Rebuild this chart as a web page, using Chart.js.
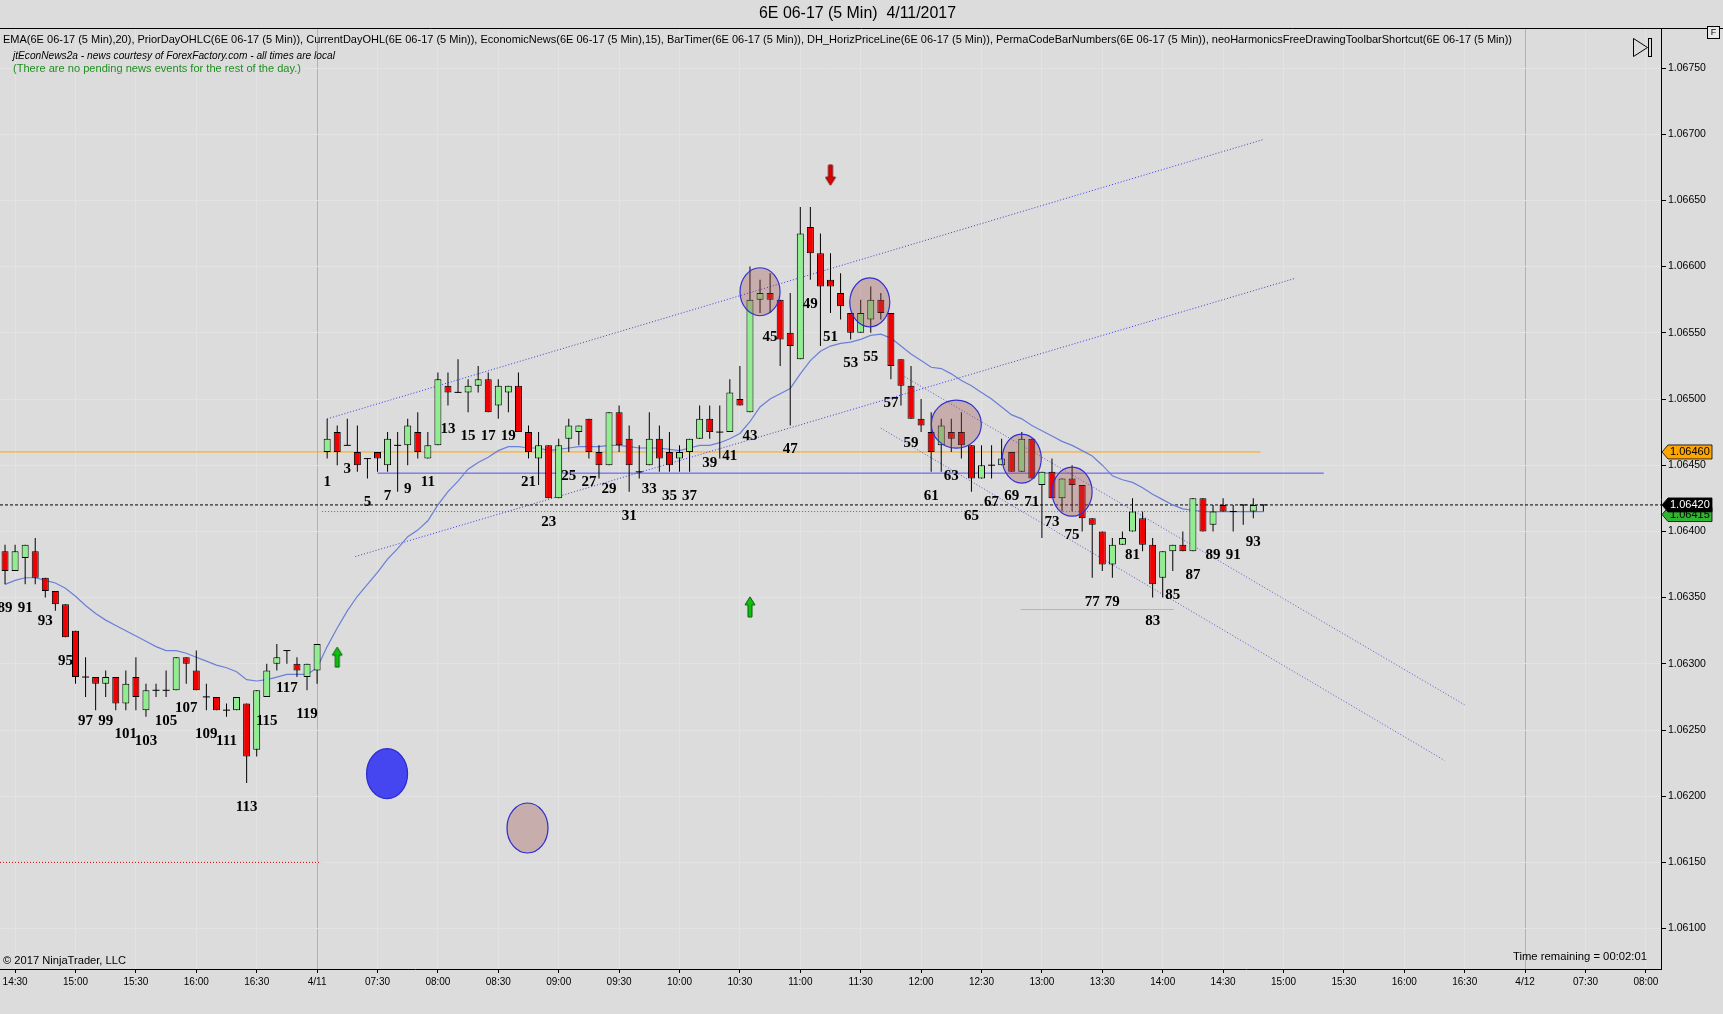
<!DOCTYPE html>
<html>
<head>
<meta charset="utf-8">
<title>6E 06-17 (5 Min) 4/11/2017</title>
<script src="https://cdn.jsdelivr.net/npm/chart.js@4.4.1/dist/chart.umd.min.js"></script>
<style>
  html, body { margin: 0; padding: 0; background: #dcdcdc; overflow: hidden; }
  #chartBox { position: relative; width: 1723px; height: 1014px; }
</style>
</head>
<body>
<div id="chartBox"><canvas id="priceChart" width="1723" height="1014"></canvas></div>
<script>
// PermaCodeBarNumbers: prior day 89..120, then today's session 1..94
const barNumbers = [];
for (let n = 89; n <= 120; n++) barNumbers.push(n);
for (let n = 1; n <= 94; n++) barNumbers.push(n);

const openPrices = [
  1.06385,1.0637,1.0638,1.06385,1.06365,1.06355,1.06345,1.06325,1.0629,1.0629,
  1.06285,1.0629,1.0627,1.0629,1.06265,1.0628,1.0628,1.0628,1.06305,1.06295,
  1.06275,1.06275,1.06265,1.06265,1.0627,1.06235,1.06275,1.063,1.0631,1.063,
  1.0629,1.06295,
  1.0646,1.06475,1.06465,1.0646,1.06455,1.0646,1.0645,1.06465,1.06465,1.06475,
  1.06455,1.06465,1.0651,1.06505,1.06505,1.0651,1.06515,1.06495,1.06505,1.0651,
  1.06475,1.06455,1.06465,1.06425,1.0647,1.06475,1.06485,1.0646,1.0645,1.0649,
  1.0647,1.06445,1.0645,1.0647,1.0646,1.06455,1.0646,1.0647,1.06485,1.06475,
  1.06475,1.065,1.0649,1.06575,1.0658,1.06575,1.0655,1.0653,1.0663,1.0661,
  1.0659,1.0658,1.06565,1.0655,1.0656,1.06575,1.06565,1.0653,1.0651,1.06485,
  1.06475,1.06465,1.06475,1.06475,1.06465,1.0644,1.0645,1.0645,1.0646,1.06445,
  1.0647,1.06435,1.06445,1.06425,1.0644,1.06435,1.0641,1.064,1.06375,1.0639,
  1.064,1.0641,1.0639,1.06365,1.06385,1.0639,1.06385,1.06425,1.06405,1.0642,
  1.06415,1.0642,1.06415,1.0642
];
const highPrices = [
  1.0639,1.0639,1.0639,1.06395,1.06365,1.06355,1.06345,1.06325,1.06305,1.0629,
  1.06295,1.0629,1.06295,1.06305,1.06285,1.06285,1.06295,1.06305,1.06305,1.0631,
  1.06285,1.06275,1.0627,1.06275,1.0627,1.0628,1.063,1.06315,1.0631,1.06305,
  1.063,1.06315,
  1.06485,1.0648,1.06485,1.0648,1.06455,1.0646,1.06475,1.06475,1.06485,1.0649,
  1.06475,1.0652,1.0652,1.0653,1.06515,1.06525,1.0652,1.06515,1.0651,1.0652,
  1.0648,1.06475,1.06465,1.0647,1.06485,1.0648,1.06485,1.06465,1.0649,1.06495,
  1.0648,1.06465,1.0649,1.0648,1.06475,1.06465,1.0647,1.06495,1.06495,1.06495,
  1.06515,1.06525,1.066,1.0659,1.06595,1.06575,1.0658,1.06645,1.06645,1.06625,
  1.0661,1.06595,1.06565,1.06575,1.06585,1.0658,1.06565,1.0653,1.06525,1.065,
  1.0649,1.06485,1.06485,1.0649,1.06465,1.06465,1.06465,1.0647,1.0646,1.06475,
  1.0647,1.06445,1.06455,1.0644,1.0645,1.06435,1.0641,1.064,1.06395,1.064,
  1.06425,1.06415,1.06395,1.06385,1.0639,1.064,1.06425,1.06425,1.0642,1.06425,
  1.0642,1.0642,1.06425,1.0642
];
const lowPrices = [
  1.0636,1.0637,1.0636,1.0636,1.0635,1.0634,1.0632,1.06285,1.06275,1.06265,
  1.06275,1.06265,1.06265,1.06265,1.0626,1.06275,1.06275,1.0628,1.06285,1.0628,
  1.06265,1.06265,1.0626,1.06265,1.0621,1.0623,1.06275,1.06295,1.063,1.0629,
  1.0628,1.06285,
  1.06455,1.0645,1.06465,1.06445,1.0644,1.06445,1.06445,1.0643,1.0645,1.06455,
  1.06455,1.06465,1.06495,1.06505,1.0649,1.06505,1.0649,1.06485,1.0649,1.06475,
  1.06455,1.06435,1.06425,1.06425,1.0646,1.06465,1.06455,1.0644,1.0645,1.0646,
  1.0643,1.0644,1.0645,1.06445,1.06445,1.06445,1.06445,1.0647,1.0647,1.06455,
  1.06475,1.06495,1.0649,1.06565,1.06565,1.06525,1.0648,1.0653,1.0659,1.0654,
  1.06565,1.0656,1.06545,1.0655,1.0655,1.0656,1.06515,1.06495,1.06485,1.06475,
  1.06445,1.06445,1.0646,1.06455,1.0643,1.0644,1.0644,1.0645,1.06445,1.06445,
  1.0644,1.06395,1.06425,1.06415,1.06415,1.064,1.06365,1.0637,1.06365,1.0639,
  1.064,1.06385,1.0635,1.0635,1.0637,1.06385,1.06385,1.064,1.064,1.06415,
  1.064,1.06405,1.0641,1.06415
];
const closePrices = [
  1.0637,1.06385,1.0639,1.06365,1.06355,1.06345,1.0632,1.0629,1.0629,1.06285,
  1.0629,1.0627,1.06285,1.06275,1.0628,1.0628,1.0628,1.06305,1.063,1.0628,
  1.06275,1.06265,1.06265,1.06275,1.0623,1.0628,1.06295,1.06305,1.0631,1.06295,
  1.063,1.06315,
  1.0647,1.0646,1.06465,1.0645,1.06455,1.06455,1.0647,1.06465,1.0648,1.0646,
  1.06465,1.06515,1.06505,1.06505,1.0651,1.06515,1.0649,1.0651,1.0651,1.06475,
  1.0646,1.06465,1.06425,1.06465,1.0648,1.0648,1.0646,1.0645,1.0649,1.06465,
  1.0645,1.06445,1.0647,1.06455,1.0645,1.0646,1.0647,1.06485,1.06475,1.06475,
  1.06505,1.06495,1.06575,1.0658,1.06575,1.06545,1.0654,1.06625,1.0661,1.06585,
  1.06585,1.0657,1.0655,1.06565,1.06575,1.06565,1.06525,1.0651,1.06485,1.0648,
  1.0646,1.0648,1.0647,1.06465,1.0644,1.0645,1.0645,1.06455,1.06445,1.0647,
  1.0644,1.06445,1.06425,1.0644,1.06435,1.0641,1.06405,1.06375,1.0639,1.06395,
  1.06415,1.0639,1.0636,1.06385,1.0639,1.06385,1.06425,1.064,1.06415,1.06415,
  1.06415,1.0642,1.0642,1.0642
];
// EMA(20)
const emaValues = [
  1.0636,1.06363,1.06365,1.06365,1.06363,1.06361,1.06357,1.06351,1.06344,1.06338,
  1.06333,1.06329,1.06325,1.06321,1.06317,1.06313,1.0631,1.0631,1.06308,1.06305,
  1.06302,1.06299,1.06297,1.06294,1.06288,1.06287,1.06288,1.0629,1.06292,1.06292,
  1.06292,1.06297,
  1.06313,1.06327,1.0634,1.06351,1.0636,1.06369,1.06379,1.06387,1.06396,1.06401,
  1.06408,1.0642,1.0643,1.06438,1.06447,1.06452,1.06456,1.06461,1.06464,1.06464,
  1.06463,1.06463,1.06461,1.06462,1.06463,1.06464,1.06464,1.06464,1.06465,1.06465,
  1.06464,1.06463,1.06463,1.06463,1.06462,1.06461,1.06463,1.06465,1.06465,1.06467,
  1.0647,1.06474,1.06483,1.06494,1.065,1.06504,1.06508,1.06519,1.06529,1.06536,
  1.0654,1.06542,1.06543,1.06545,1.06548,1.06549,1.06546,1.0654,1.06534,1.06529,
  1.06524,1.06523,1.06519,1.06514,1.0651,1.06505,1.065,1.06494,1.06488,1.06485,
  1.0648,1.06476,1.06472,1.06468,1.06465,1.06461,1.06457,1.0645,1.06442,1.06439,
  1.06437,1.06433,1.06428,1.06424,1.0642,1.06417,1.06416,1.06415,1.06415,1.06415,
  1.06415,1.06415,1.06415,1.06415
];

const xTickLabels = ['14:30','15:00','15:30','16:00','16:30','4/11','07:30','08:00','08:30','09:00',
  '09:30','10:00','10:30','11:00','11:30','12:00','12:30','13:00','13:30','14:00',
  '14:30','15:00','15:30','16:00','16:30','4/12','07:30','08:00'];
const priceTicks = [1.061,1.0615,1.062,1.0625,1.063,1.0635,1.064,1.0645,1.065,1.0655,1.066,1.0665,1.067,1.0675];

// horizontal price lines: prior day close, drawn level, current day open, last price, prior day low, short level
const levelPrices = [1.0646, 1.06444, 1.06415, 1.0642, 1.0615, 1.06341];
const levelStarts = [-0.5, 37, 31.5, -0.5, -0.5, 100.9];
const levelEnds   = [124.7, 131, 124.4, 164.5, 31.4, 116.1];
// trend channel lines [bar slot, price]
const channelStarts = [[32, 1.06485], [34.8, 1.06381], [89.1, 1.06518], [87, 1.06478]];
const channelEnds   = [[125, 1.06696], [128.1, 1.06591], [145, 1.06269], [143, 1.06227]];
// drawing objects
const circleCenters = [[75, 1.06581], [85.9, 1.06573], [94.5, 1.06481], [101, 1.06455], [106, 1.0643]];
const dotCenters = [[37.95, 1.06217], [51.9, 1.06176]];
const upArrows = [[33, 1.06305], [74, 1.06343]];
const downArrows = [[82, 1.06669]];

const BG = '#dcdcdc';
const UP_COLOR = '#90ee90';
const DOWN_COLOR = '#f00000';
const firstTickSlot = 1, slotsPerTick = 6;

function arrowIcon(up, fill, stroke) {
  const c = document.createElement('canvas');
  c.width = 12; c.height = 22;
  const g = c.getContext('2d');
  g.beginPath();
  if (up) {
    g.moveTo(6, 1); g.lineTo(11, 9); g.lineTo(8, 9); g.lineTo(8, 21); g.lineTo(4, 21); g.lineTo(4, 9); g.lineTo(1, 9);
  } else {
    g.moveTo(6, 21); g.lineTo(11, 13); g.lineTo(8, 13); g.lineTo(8, 1); g.lineTo(4, 1); g.lineTo(4, 13); g.lineTo(1, 13);
  }
  g.closePath();
  g.fillStyle = fill; g.fill();
  g.strokeStyle = stroke; g.lineWidth = 1; g.stroke();
  return c;
}

const wicks = [], bodies = [], bodyColors = [], dojis = [], emaPoints = [];
barNumbers.forEach((n, i) => {
  wicks.push({ x: i, y: [lowPrices[i], highPrices[i]] });
  if (openPrices[i] !== closePrices[i]) {
    bodies.push({ x: i, y: [openPrices[i], closePrices[i]] });
    bodyColors.push(closePrices[i] > openPrices[i] ? UP_COLOR : DOWN_COLOR);
  } else {
    dojis.push({ x: i, y: openPrices[i] });
  }
  emaPoints.push({ x: i, y: emaValues[i] });
});

const levelStyles = [
  { color: '#ffa500', dash: [] },
  { color: '#4f4fff', dash: [] },
  { color: '#1f9f1f', dash: [1, 2] },
  { color: '#000000', dash: [3, 2] },
  { color: '#d00000', dash: [1, 2] },
  { color: '#a8b6d6', dash: [] }
];

const datasets = [];
levelPrices.forEach((p, k) => {
  datasets.push({
    type: 'line', order: 20,
    data: [{ x: levelStarts[k], y: p }, { x: levelEnds[k], y: p }],
    borderColor: levelStyles[k].color, borderDash: levelStyles[k].dash, borderWidth: 1,
    pointRadius: 0, pointHoverRadius: 0, fill: false
  });
});
channelStarts.forEach((s, k) => {
  datasets.push({
    type: 'line', order: 19,
    data: [{ x: s[0], y: s[1] }, { x: channelEnds[k][0], y: channelEnds[k][1] }],
    borderColor: k < 2 ? '#3b3bdc' : '#5a5ad0', borderDash: [1, 2], borderWidth: 1,
    pointRadius: 0, pointHoverRadius: 0, fill: false
  });
});
datasets.push({
  type: 'line', order: 18, data: emaPoints,
  borderColor: '#6a7fd8', borderWidth: 1.2, pointRadius: 0, pointHoverRadius: 0, tension: 0, fill: false
});
datasets.push({
  type: 'bar', order: 10, data: wicks, grouped: false,
  barThickness: 1, backgroundColor: '#000', borderWidth: 0, inflateAmount: 0
});
datasets.push({
  type: 'bar', order: 9, data: bodies, grouped: false,
  barThickness: 7, backgroundColor: bodyColors, borderColor: '#000', borderWidth: 1,
  borderSkipped: false, inflateAmount: 0
});
datasets.push({
  type: 'scatter', order: 8, data: dojis,
  pointStyle: 'line', pointRadius: 3.5, pointHoverRadius: 3.5, borderColor: '#000', borderWidth: 1
});
datasets.push({
  type: 'scatter', order: 2, data: upArrows.map(a => ({ x: a[0], y: a[1] })),
  pointStyle: arrowIcon(true, '#10c010', '#006000')
});
datasets.push({
  type: 'scatter', order: 2, data: downArrows.map(a => ({ x: a[0], y: a[1] })),
  pointStyle: arrowIcon(false, '#e00000', '#700000')
});

function fitText(ctx, text, x, y, width, font, color) {
  ctx.save();
  ctx.font = font;
  ctx.fillStyle = color;
  ctx.textBaseline = 'middle';
  ctx.textAlign = 'left';
  const w = ctx.measureText(text).width;
  ctx.translate(x, y);
  ctx.scale(width / w, 1);
  ctx.fillText(text, 0, 0);
  ctx.restore();
}

function priceTag(ctx, x, y, text, bg, fg) {
  ctx.save();
  ctx.beginPath();
  ctx.moveTo(x, y);
  ctx.lineTo(x + 6, y - 7);
  ctx.lineTo(x + 50, y - 7);
  ctx.lineTo(x + 50, y + 7);
  ctx.lineTo(x + 6, y + 7);
  ctx.closePath();
  ctx.fillStyle = bg; ctx.fill();
  ctx.strokeStyle = '#000'; ctx.lineWidth = 0.8; ctx.stroke();
  ctx.fillStyle = fg;
  ctx.font = '11px "Liberation Sans", Arial, sans-serif';
  ctx.textBaseline = 'middle';
  ctx.fillText(text, x + 8, y + 0.5);
  ctx.restore();
}

const ninjaPlugin = {
  id: 'ninja',
  beforeDraw(chart) {
    const ctx = chart.ctx;
    ctx.save();
    ctx.fillStyle = BG;
    ctx.fillRect(0, 0, chart.width, chart.height);
    ctx.restore();
  },
  afterDatasetsDraw(chart) {
    const ctx = chart.ctx, xs = chart.scales.x, ys = chart.scales.y;
    ctx.save();
    // bar numbers under the low of every odd bar
    ctx.font = 'bold 15px "Liberation Serif", "Times New Roman", serif';
    ctx.fillStyle = '#000';
    ctx.textAlign = 'center';
    ctx.textBaseline = 'middle';
    barNumbers.forEach((n, i) => {
      if (n % 2 === 1) {
        ctx.fillText(String(n), xs.getPixelForValue(i), ys.getPixelForValue(lowPrices[i]) + 24);
      }
    });
    // highlight circles
    const radii = [[20, 24], [20, 24.5], [25, 24], [19.5, 24.5], [20, 24.5]];
    circleCenters.forEach((c, k) => {
      ctx.beginPath();
      ctx.ellipse(xs.getPixelForValue(c[0]), ys.getPixelForValue(c[1]), radii[k][0], radii[k][1], 0, 0, Math.PI * 2);
      ctx.fillStyle = 'rgba(160,80,80,0.33)';
      ctx.fill();
      ctx.strokeStyle = '#3030d0';
      ctx.lineWidth = 1.2;
      ctx.stroke();
    });
    // loose dots bottom left
    const dotFill = ['#4646f0', 'rgba(160,80,80,0.33)'];
    dotCenters.forEach((c, k) => {
      ctx.beginPath();
      ctx.ellipse(xs.getPixelForValue(c[0]), ys.getPixelForValue(c[1]), 20.5, 25, 0, 0, Math.PI * 2);
      ctx.fillStyle = dotFill[k];
      ctx.fill();
      ctx.strokeStyle = '#2a2ad0';
      ctx.lineWidth = 1.2;
      ctx.stroke();
    });
    ctx.restore();
  },
  afterDraw(chart) {
    const ctx = chart.ctx, ys = chart.scales.y, area = chart.chartArea;
    const sans = '"Liberation Sans", Arial, sans-serif';
    ctx.save();
    // panel top border
    ctx.strokeStyle = '#000';
    ctx.lineWidth = 1;
    ctx.beginPath();
    ctx.moveTo(0, area.top - 0.5);
    ctx.lineTo(chart.width, area.top - 0.5);
    ctx.stroke();
    ctx.restore();

    // title
    fitText(ctx, '6E 06-17 (5 Min)  4/11/2017', 759, 14, 197, '16px ' + sans, '#000');
    // indicator list
    fitText(ctx, 'EMA(6E 06-17 (5 Min),20), PriorDayOHLC(6E 06-17 (5 Min)), CurrentDayOHL(6E 06-17 (5 Min)), EconomicNews(6E 06-17 (5 Min),15), BarTimer(6E 06-17 (5 Min)), DH_HorizPriceLine(6E 06-17 (5 Min)), PermaCodeBarNumbers(6E 06-17 (5 Min)), neoHarmonicsFreeDrawingToolbarShortcut(6E 06-17 (5 Min))',
      3, 39.5, 1509, '11px ' + sans, '#000');
    fitText(ctx, 'jtEconNews2a - news courtesy of ForexFactory.com - all times are local',
      13, 56, 322, 'italic 10px ' + sans, '#000');
    fitText(ctx, '(There are no pending news events for the rest of the day.)',
      13, 69, 288, '11px ' + sans, '#1f8f1f');
    fitText(ctx, '\u00a9 2017 NinjaTrader, LLC', 3, 961, 123, '10px ' + sans, '#000');
    fitText(ctx, 'Time remaining = 00:02:01', 1513, 957, 134, '10px ' + sans, '#000');

    // price tags on the axis
    const tx = area.right + 1;
    priceTag(ctx, tx, ys.getPixelForValue(levelPrices[0]), '1.06460', '#ffa500', '#000');
    priceTag(ctx, tx, ys.getPixelForValue(levelPrices[2]) + 3, '1.06415', '#2fb52f', '#000');
    priceTag(ctx, tx, ys.getPixelForValue(levelPrices[3]), '1.06420', '#000', '#fff');

    // toolbar shortcut icon and F box
    ctx.save();
    ctx.strokeStyle = '#000';
    ctx.lineWidth = 1;
    ctx.beginPath();
    ctx.moveTo(1633.5, 38.5); ctx.lineTo(1647.5, 47.5); ctx.lineTo(1633.5, 56.5); ctx.closePath();
    ctx.stroke();
    ctx.strokeRect(1648.5, 38.5, 3, 18);
    ctx.fillStyle = '#e8e8e8';
    ctx.fillRect(1707.5, 26.5, 12, 12);
    ctx.strokeRect(1707.5, 26.5, 12, 12);
    ctx.fillStyle = '#000';
    ctx.font = '9px ' + sans;
    ctx.textAlign = 'center';
    ctx.textBaseline = 'middle';
    ctx.fillText('F', 1713.5, 33);
    ctx.restore();
  }
};

const chart = new Chart(document.getElementById('priceChart'), {
  type: 'bar',
  data: { datasets: datasets },
  options: {
    responsive: false,
    animation: false,
    devicePixelRatio: 1,
    events: [],
    layout: { autoPadding: false, padding: { top: 29, left: 0, right: 0, bottom: 0 } },
    plugins: {
      legend: { display: false },
      tooltip: { enabled: false }
    },
    scales: {
      x: {
        type: 'linear',
        min: -0.5,
        max: 164.5,
        offset: false,
        afterBuildTicks: s => { s.ticks = xTickLabels.map((l, i) => ({ value: firstTickSlot + i * slotsPerTick })); },
        afterFit: s => { s.height = 45; s.paddingLeft = 0; s.paddingRight = 0; },
        grid: {
          offset: false,
          color: c => (xTickLabels[c.index] || '').includes('/') ? '#b2b2b2' : '#e3e3e3',
          tickColor: '#000',
          tickLength: 4
        },
        border: { display: true, color: '#000' },
        ticks: {
          autoSkip: false, maxRotation: 0, padding: 3, color: '#000',
          font: { family: '"Liberation Sans", Arial, sans-serif', size: 10 },
          callback: (v, i) => xTickLabels[i]
        }
      },
      y: {
        position: 'right',
        min: 1.0606949,
        max: 1.0677946,
        afterBuildTicks: s => { s.ticks = priceTicks.map(v => ({ value: v })); },
        afterFit: s => { s.width = 62; s.paddingTop = 0; s.paddingBottom = 0; },
        grid: { color: '#e3e3e3', tickColor: '#000', tickLength: 5 },
        border: { display: true, color: '#000' },
        ticks: {
          padding: 2, color: '#000',
          font: { family: '"Liberation Sans", Arial, sans-serif', size: 10.5 },
          callback: v => v.toFixed(5)
        }
      }
    }
  },
  plugins: [ninjaPlugin]
});
</script>
</body>
</html>
